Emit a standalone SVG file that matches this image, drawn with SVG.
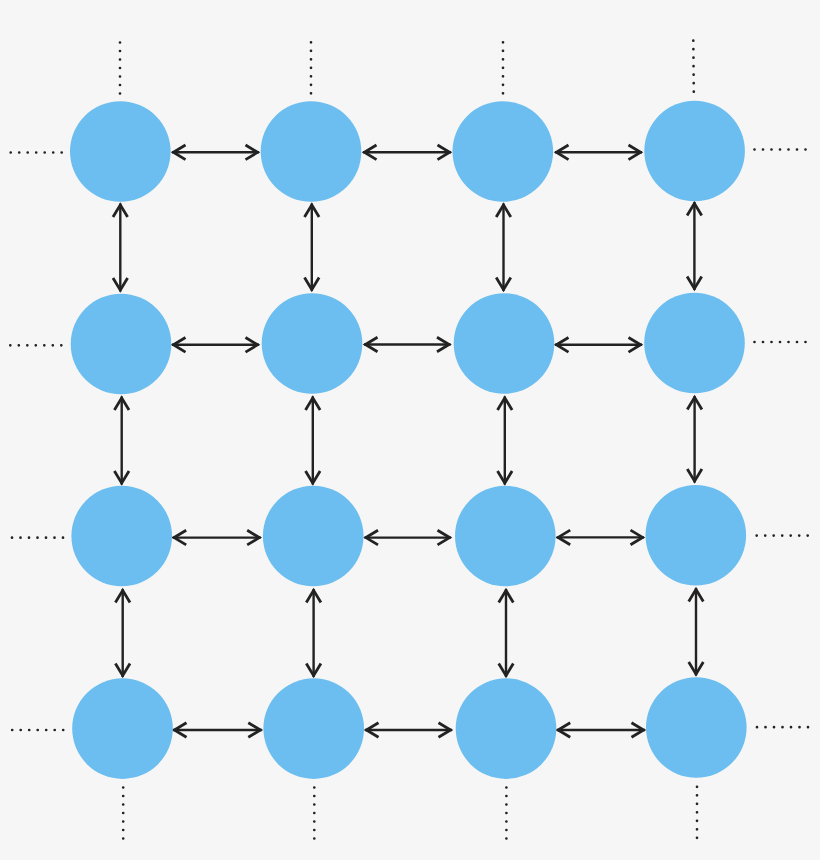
<svg xmlns="http://www.w3.org/2000/svg" width="820" height="860" viewBox="0 0 820 860">
<style>
.node{fill:#6BBEEF}
.arr{stroke:#222;stroke-width:2.4;fill:none;marker-start:url(#ah);marker-end:url(#ah)}
.dot{stroke:#222;stroke-width:2.7;stroke-linecap:round;stroke-dasharray:0 8.5;fill:none}
</style>
<defs>
<marker id="ah" markerUnits="userSpaceOnUse" viewBox="-18 -10 22 20" refX="0" refY="0" markerWidth="22" markerHeight="20" orient="auto-start-reverse" overflow="visible">
<path d="M-13.5,-7.3 L-1.4,0 L-13.5,7.3" stroke="#222" stroke-width="2.8" fill="none" stroke-linejoin="miter" stroke-miterlimit="10"/>
</marker>
</defs>
<rect width="820" height="860" fill="#F6F6F6"/>
<g id="connectors">
<line class="arr" x1="172" y1="152.3" x2="259" y2="152.3"/>
<line class="arr" x1="363" y1="152.3" x2="451" y2="152.3"/>
<line class="arr" x1="555" y1="152.3" x2="642" y2="152.3"/>
<line class="arr" x1="172" y1="344.8" x2="259" y2="344.8"/>
<line class="arr" x1="364" y1="344.5" x2="450.5" y2="344.5"/>
<line class="arr" x1="555" y1="344.8" x2="642" y2="344.8"/>
<line class="arr" x1="172.7" y1="537.6" x2="260.7" y2="537.6"/>
<line class="arr" x1="364.5" y1="537.6" x2="451" y2="537.6"/>
<line class="arr" x1="556.7" y1="537.4" x2="644" y2="537.4"/>
<line class="arr" x1="173" y1="730" x2="261.8" y2="730"/>
<line class="arr" x1="365" y1="730" x2="452" y2="730"/>
<line class="arr" x1="556.7" y1="730" x2="645" y2="730"/>
<line class="arr" x1="120.3" y1="203.5" x2="120.3" y2="291.5"/>
<line class="arr" x1="121.7" y1="396.5" x2="121.7" y2="484.5"/>
<line class="arr" x1="122.7" y1="589" x2="122.7" y2="677"/>
<line class="arr" x1="311.8" y1="203.5" x2="311.8" y2="291"/>
<line class="arr" x1="312.8" y1="396.5" x2="312.8" y2="484.5"/>
<line class="arr" x1="313.6" y1="589" x2="313.6" y2="677"/>
<line class="arr" x1="503.5" y1="203.5" x2="503.5" y2="291"/>
<line class="arr" x1="504.8" y1="396.5" x2="504.8" y2="484.5"/>
<line class="arr" x1="506" y1="589" x2="506" y2="677"/>
<line class="arr" x1="694.4" y1="202" x2="694.4" y2="290"/>
<line class="arr" x1="694.6" y1="396" x2="694.6" y2="482.5"/>
<line class="arr" x1="696" y1="588" x2="696" y2="675.5"/>
<line class="dot" x1="120" y1="42.5" x2="120" y2="93.8"/>
<line class="dot" x1="311" y1="42.3" x2="311" y2="93.6"/>
<line class="dot" x1="503" y1="42.3" x2="503" y2="93.6"/>
<line class="dot" x1="693.3" y1="40.7" x2="693.8" y2="92"/>
<line class="dot" x1="123.2" y1="787.5" x2="123.2" y2="838.8"/>
<line class="dot" x1="314.3" y1="787.5" x2="314.3" y2="838.8"/>
<line class="dot" x1="506.4" y1="787.5" x2="506.4" y2="838.8"/>
<line class="dot" x1="697" y1="786.8" x2="697" y2="838.1"/>
<line class="dot" x1="10.7" y1="152.5" x2="62" y2="152.5"/>
<line class="dot" x1="10.3" y1="345.3" x2="61.6" y2="345.3"/>
<line class="dot" x1="12" y1="537.7" x2="63.3" y2="537.7"/>
<line class="dot" x1="12.2" y1="730" x2="63.5" y2="730"/>
<line class="dot" x1="754.5" y1="149.5" x2="805.8" y2="149.5"/>
<line class="dot" x1="754.5" y1="342" x2="805.8" y2="342"/>
<line class="dot" x1="756.7" y1="535.6" x2="808" y2="535.6"/>
<line class="dot" x1="757" y1="727.2" x2="808.3" y2="727.2"/>
</g>
<g id="n11"><circle class="node" cx="120.3" cy="151.5" r="50.3"/></g>
<g id="n12"><circle class="node" cx="311" cy="151.5" r="50.3"/></g>
<g id="n13"><circle class="node" cx="502.8" cy="151.5" r="50.3"/></g>
<g id="n14"><circle class="node" cx="694.6" cy="151" r="50.3"/></g>
<g id="n21"><circle class="node" cx="121" cy="344" r="50.3"/></g>
<g id="n22"><circle class="node" cx="312" cy="343.5" r="50.3"/></g>
<g id="n23"><circle class="node" cx="504" cy="343.5" r="50.3"/></g>
<g id="n24"><circle class="node" cx="694.5" cy="343" r="50.3"/></g>
<g id="n31"><circle class="node" cx="121.7" cy="536" r="50.3"/></g>
<g id="n32"><circle class="node" cx="313.2" cy="536" r="50.3"/></g>
<g id="n33"><circle class="node" cx="505.3" cy="536" r="50.3"/></g>
<g id="n34"><circle class="node" cx="695.8" cy="535.3" r="50.3"/></g>
<g id="n41"><circle class="node" cx="122.5" cy="728.6" r="50.3"/></g>
<g id="n42"><circle class="node" cx="313.7" cy="728.6" r="50.3"/></g>
<g id="n43"><circle class="node" cx="506" cy="728.6" r="50.3"/></g>
<g id="n44"><circle class="node" cx="696.3" cy="727.5" r="50.3"/></g>
</svg>
